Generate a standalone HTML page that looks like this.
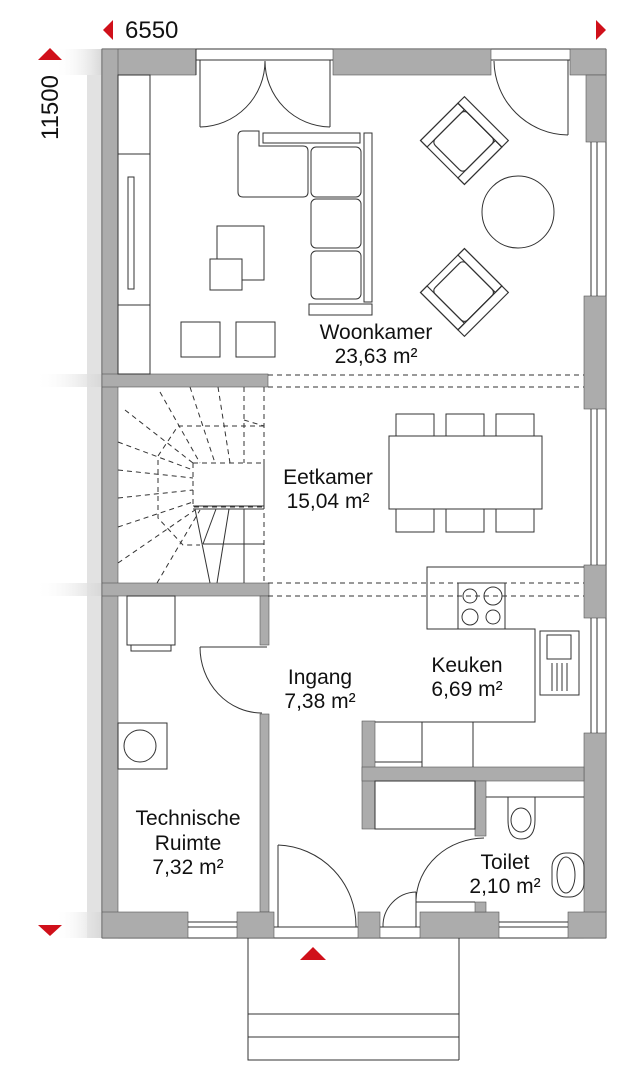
<!DOCTYPE html>
<html><head><meta charset="utf-8"><style>
html,body{margin:0;padding:0;background:#fff;}
svg{display:block;}
text{font-family:"Liberation Sans",sans-serif;fill:#111;}
</style></head><body>
<svg width="636" height="1080" viewBox="0 0 636 1080" xmlns="http://www.w3.org/2000/svg">
<defs>
<linearGradient id="sh" x1="0" x2="1" y1="0" y2="0">
<stop offset="0" stop-color="#fff" stop-opacity="0"/>
<stop offset="1" stop-color="#d8d8d8"/>
</linearGradient>
</defs>
<rect x="87" y="75" width="15" height="863" fill="#e2e2e2"/>
<rect x="55" y="49" width="47" height="26" fill="url(#sh)"/>
<rect x="35" y="374" width="67" height="13" fill="url(#sh)"/>
<rect x="35" y="583" width="67" height="13" fill="url(#sh)"/>
<rect x="55" y="912" width="47" height="26" fill="url(#sh)"/>

<polygon points="113,20 113,40 103,30" fill="#d0101a"/>
<polygon points="596,20 596,40 606,30" fill="#d0101a"/>
<polygon points="38,60 62,60 50,48" fill="#d0101a"/>
<polygon points="38,925 62,925 50,936" fill="#d0101a"/>
<polygon points="300,960 326,960 313,947" fill="#d0101a"/>
<text x="125" y="38" font-size="24">6550</text>
<text x="0" y="0" font-size="24" transform="translate(58,140) rotate(-90)">11500</text>

<g stroke="#333" stroke-width="1" fill="none">
<line x1="102" y1="49" x2="606" y2="49"/>
<line x1="102" y1="938" x2="606" y2="938"/>
<line x1="102" y1="49" x2="102" y2="938"/>
<line x1="606" y1="49" x2="606" y2="938"/>
</g>

<g fill="#acacac" stroke="#555" stroke-width="0.6">
<rect x="102" y="49" width="94" height="26"/>
<rect x="333" y="49" width="158" height="26"/>
<rect x="570" y="49" width="36" height="26"/>
<rect x="586" y="75" width="20" height="67"/>
<rect x="584" y="296" width="22" height="113"/>
<rect x="584" y="565" width="22" height="53"/>
<rect x="584" y="733" width="22" height="205"/>
<rect x="102" y="49" width="16" height="889"/>
<rect x="102" y="374" width="166" height="13"/>
<rect x="102" y="583" width="167" height="13"/>
<rect x="260" y="596" width="9" height="49"/>
<rect x="260" y="714" width="9" height="198"/>
<rect x="102" y="912" width="86" height="26"/>
<rect x="237" y="912" width="37" height="26"/>
<rect x="358" y="912" width="22" height="26"/>
<rect x="420" y="912" width="79" height="26"/>
<rect x="568" y="912" width="38" height="26"/>
<rect x="362" y="721" width="13" height="108"/>
<rect x="362" y="767" width="222" height="14"/>
<rect x="475" y="781" width="11" height="55"/>
<rect x="475" y="902" width="11" height="10"/>
</g>

<g stroke="#333" stroke-width="1" fill="none">
<line x1="196" y1="60" x2="333" y2="60"/>
<line x1="491" y1="60" x2="570" y2="60"/>
<line x1="196" y1="49" x2="196" y2="75"/>
<line x1="200" y1="60" x2="200" y2="127"/>
<path d="M200,127 A66,66 0 0 0 265,61"/>
<line x1="330" y1="60" x2="330" y2="127"/>
<path d="M330,127 A66,66 0 0 1 265,61"/>
<line x1="568" y1="60" x2="568" y2="135"/>
<path d="M568,135 A75,75 0 0 1 494,61"/>
<line x1="591" y1="142" x2="591" y2="296"/>
<line x1="597" y1="142" x2="597" y2="296"/>
<line x1="591" y1="409" x2="591" y2="565"/>
<line x1="597" y1="409" x2="597" y2="565"/>
<line x1="591" y1="618" x2="591" y2="733"/>
<line x1="597" y1="618" x2="597" y2="733"/>
<line x1="188" y1="922" x2="237" y2="922"/>
<line x1="188" y1="927" x2="237" y2="927"/>
<line x1="499" y1="922" x2="568" y2="922"/>
<line x1="499" y1="927" x2="568" y2="927"/>
<line x1="274" y1="927" x2="358" y2="927"/>
<line x1="380" y1="927" x2="420" y2="927"/>
<line x1="278" y1="845" x2="278" y2="927"/>
<path d="M278,845 A81,81 0 0 1 356,927"/>
<line x1="416" y1="892" x2="416" y2="927"/>
<path d="M416,892 A34,34 0 0 0 383,927"/>
<polyline points="248,938 248,1060 459,1060"/>
<line x1="248" y1="1014" x2="459" y2="1014"/>
<line x1="248" y1="1037" x2="459" y2="1037"/>
<line x1="459" y1="938" x2="459" y2="1060"/>

<rect x="118" y="75" width="32" height="299"/>
<line x1="118" y1="154" x2="150" y2="154"/>
<line x1="118" y1="305" x2="150" y2="305"/>
<rect x="128" y="177" width="6" height="112"/>
<rect x="263" y="133" width="97" height="10"/>
<rect x="364" y="133" width="8" height="169"/>
<rect x="309" y="304" width="63" height="11"/>
<path d="M243,131 H259 V146 H303 Q308,146 308,151 V192 Q308,197 303,197 H243 Q238,197 238,192 V136 Q238,131 243,131 Z"/>
<rect x="311" y="147" width="50" height="50" rx="5"/>
<rect x="311" y="199" width="50" height="49" rx="5"/>
<rect x="311" y="251" width="50" height="48" rx="5"/>
<rect x="217" y="226" width="47" height="54"/>
<rect x="210" y="259" width="32" height="31" fill="#fff"/>
<rect x="181" y="322" width="39" height="35"/>
<rect x="236" y="322" width="39" height="35"/>
<circle cx="518" cy="212" r="36"/>
<g transform="translate(462,143) rotate(45) scale(1.15)">
<rect x="-27" y="-22" width="54" height="46"/>
<rect x="-27" y="-30" width="54" height="8"/>
<rect x="-19" y="-22" width="38" height="40" rx="4"/>
<rect x="-27" y="-22" width="8" height="46"/>
<rect x="19" y="-22" width="8" height="46"/>
</g>
<g transform="translate(462,290) rotate(135) scale(1.15)">
<rect x="-27" y="-22" width="54" height="46"/>
<rect x="-27" y="-30" width="54" height="8"/>
<rect x="-19" y="-22" width="38" height="40" rx="4"/>
<rect x="-27" y="-22" width="8" height="46"/>
<rect x="19" y="-22" width="8" height="46"/>
</g>

<rect x="389" y="436" width="153" height="73" fill="#fff"/>
<rect x="396" y="414" width="38" height="22"/>
<rect x="446" y="414" width="38" height="22"/>
<rect x="496" y="414" width="38" height="22"/>
<rect x="396" y="509" width="38" height="23"/>
<rect x="446" y="509" width="38" height="23"/>
<rect x="496" y="509" width="38" height="23"/>

<g stroke-dasharray="5,4">
<line x1="268" y1="375" x2="584" y2="375"/>
<line x1="268" y1="387" x2="584" y2="387"/>
<line x1="268" y1="583" x2="584" y2="583"/>
<line x1="268" y1="596" x2="584" y2="596"/>
<rect x="193" y="463" width="71" height="44"/>
<polyline points="264,426 178,426 158,456 158,518 183,545 200,545"/>
<line x1="264" y1="387" x2="264" y2="583"/>
<line x1="244" y1="387" x2="244" y2="463"/>
<line x1="218" y1="387" x2="230" y2="463"/>
<line x1="190" y1="387" x2="215" y2="463"/>
<line x1="160" y1="392" x2="200" y2="463"/>
<line x1="125" y1="410" x2="193" y2="463"/>
<line x1="118" y1="442" x2="193" y2="470"/>
<line x1="118" y1="470" x2="193" y2="478"/>
<line x1="118" y1="498" x2="193" y2="490"/>
<line x1="118" y1="527" x2="193" y2="502"/>
<line x1="118" y1="563" x2="195" y2="510"/>
<line x1="157" y1="583" x2="200" y2="510"/>
<line x1="244" y1="420" x2="264" y2="426"/>
</g>
<line x1="193" y1="506" x2="264" y2="506"/>
<line x1="193" y1="509" x2="264" y2="509"/>
<line x1="244" y1="509" x2="244" y2="583"/>
<line x1="203" y1="544" x2="264" y2="544"/>
<line x1="195" y1="509" x2="210" y2="583"/>
<line x1="216" y1="509" x2="203" y2="544"/>
<line x1="229" y1="509" x2="217" y2="583"/>

<rect x="127" y="596" width="48" height="49"/>
<rect x="131" y="645" width="40" height="6"/>
<rect x="118" y="723" width="49" height="46"/>
<circle cx="140" cy="746" r="16"/>
<line x1="200" y1="647" x2="267" y2="647"/>
<path d="M200,647 A62,66 0 0 0 262,713"/>

<polyline points="584,567 427,567 427,629 535,629 535,722 375,722"/>
<rect x="458" y="583" width="47" height="46"/>
<circle cx="470" cy="596" r="7"/>
<circle cx="493" cy="596" r="9"/>
<circle cx="470" cy="617" r="8"/>
<circle cx="493" cy="617" r="7"/>
<line x1="422" y1="722" x2="422" y2="767"/>
<line x1="473" y1="722" x2="473" y2="767"/>
<line x1="375" y1="762" x2="422" y2="762"/>
<rect x="540" y="631" width="39" height="64"/>
<rect x="547" y="635" width="24" height="24"/>
<line x1="552" y1="663" x2="552" y2="691"/>
<line x1="557" y1="663" x2="557" y2="691"/>
<line x1="562" y1="663" x2="562" y2="691"/>
<line x1="567" y1="663" x2="567" y2="691"/>
<rect x="375" y="781" width="100" height="48"/>
<line x1="486" y1="797" x2="584" y2="797"/>
<path d="M508,797 L508,820 Q508,839 521,839 Q535,839 535,820 L535,797"/>
<ellipse cx="521" cy="820" rx="10" ry="12"/>
<rect x="552" y="853" width="32" height="44" rx="14"/>
<ellipse cx="566" cy="875" rx="9" ry="18"/>
<line x1="416" y1="902" x2="475" y2="902"/>
<path d="M416,900 A69,64 0 0 1 484,838"/>
</g>

<g font-size="21" text-anchor="middle">
<text x="376" y="339">Woonkamer</text>
<text x="376" y="363">23,63 m²</text>
<text x="328" y="484">Eetkamer</text>
<text x="328" y="508">15,04 m²</text>
<text x="320" y="684">Ingang</text>
<text x="320" y="708">7,38 m²</text>
<text x="467" y="672">Keuken</text>
<text x="467" y="696">6,69 m²</text>
<text x="188" y="825">Technische</text>
<text x="188" y="850">Ruimte</text>
<text x="188" y="874">7,32 m²</text>
<text x="505" y="869">Toilet</text>
<text x="505" y="893">2,10 m²</text>
</g>
</svg>
</body></html>
